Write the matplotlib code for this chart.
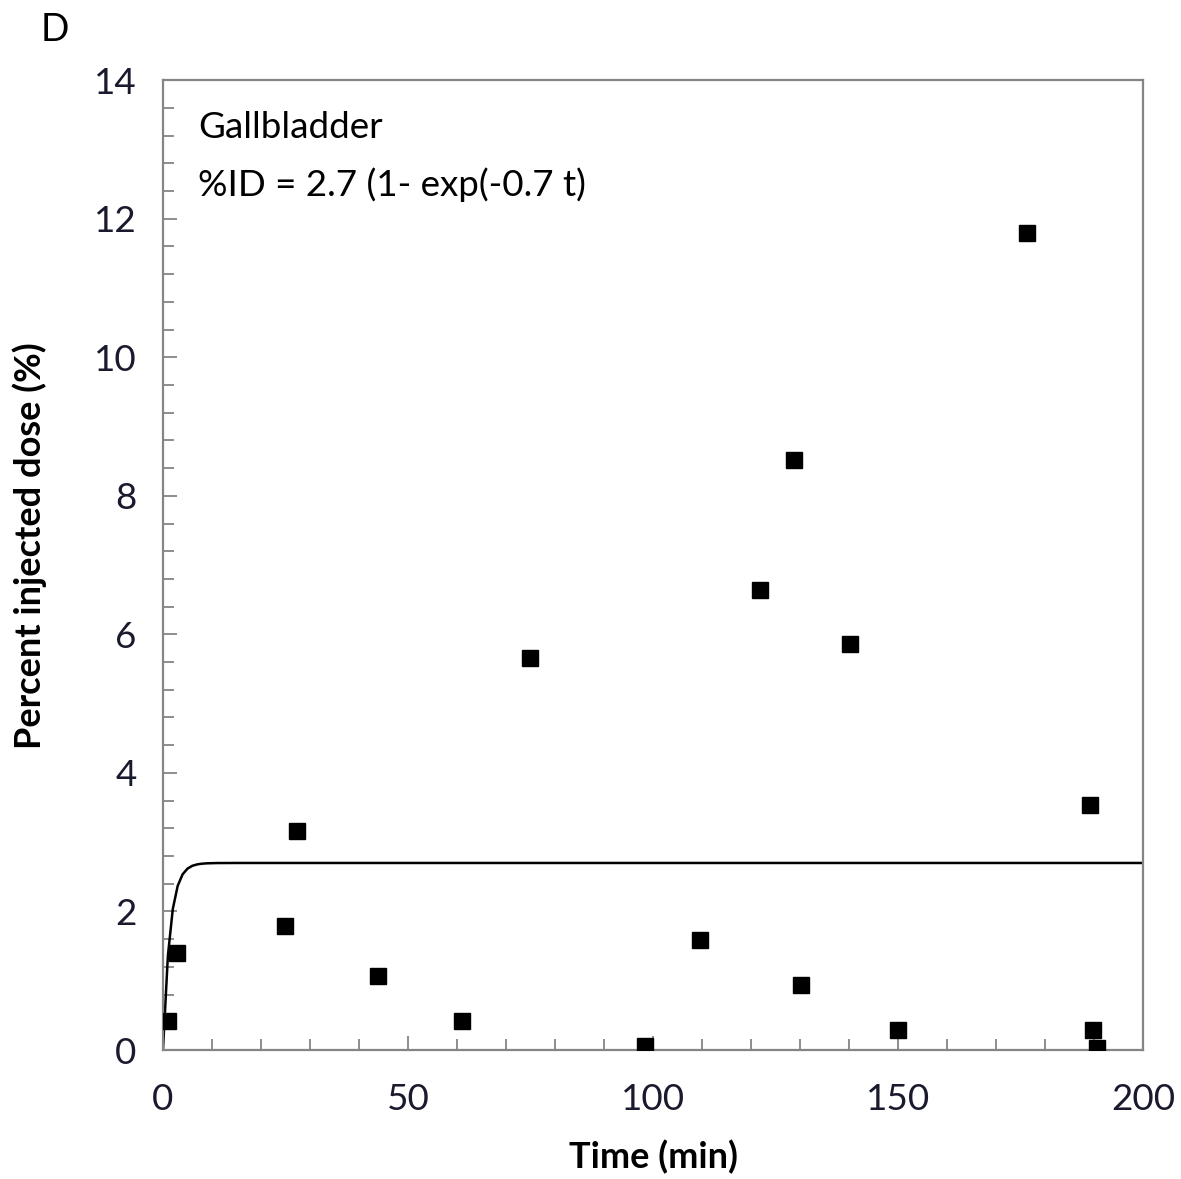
import numpy as np
import matplotlib
matplotlib.use("Agg")
import matplotlib.pyplot as plt
from matplotlib.ticker import MultipleLocator

plt.rcParams['font.family'] = ['Lato', 'DejaVu Sans']

# measured points (time in min, percent injected dose)
time_min = [1.0, 2.9, 24.9, 27.3, 43.9, 61.0, 74.9, 98.4, 109.6, 121.8,
            128.8, 130.2, 140.2, 150.0, 176.3, 189.2, 189.8, 190.6]
pct_dose = [0.42, 1.40, 1.79, 3.16, 1.07, 0.42, 5.66, 0.06, 1.59, 6.64,
            8.51, 0.94, 5.86, 0.29, 11.79, 3.54, 0.29, 0.03]

# fitted model from the annotation: %ID = 2.7 (1 - exp(-0.7 t))
fit_a = 2.7
fit_k = 0.7
fit_t = np.arange(0, 201, 1.0)
fit_y = fit_a * (1 - np.exp(-fit_k * fit_t))

fig = plt.figure(figsize=(11.81, 11.79), dpi=100)
ax = fig.add_axes([0.138, 0.1094, 0.830, 0.8226])

ax.plot(fit_t, fit_y, color='black', lw=1.8, zorder=2)
ax.plot(time_min, pct_dose, 's', color='black', ms=11, zorder=3)

ax.set_xlim(0, 200)
ax.set_ylim(0, 14)
ax.xaxis.set_major_locator(MultipleLocator(50))
ax.xaxis.set_minor_locator(MultipleLocator(10))
ax.yaxis.set_major_locator(MultipleLocator(2))
ax.yaxis.set_minor_locator(MultipleLocator(0.4))

for s in ax.spines.values():
    s.set_color('#858585')
    s.set_linewidth(1.6)

ax.tick_params(which='both', direction='in', colors='#858585',
               labelcolor='#1a1a2e', labelsize=26.5, width=1.3)
ax.tick_params(which='major', length=10)
ax.tick_params(which='minor', length=8)
ax.tick_params(axis='x', which='major', pad=24)
ax.tick_params(axis='y', which='major', pad=19)

ax.set_xlabel('Time (min)', fontsize=26, fontweight='bold', labelpad=17)
ax.set_ylabel('Percent injected dose (%)', fontsize=26, fontweight='bold',
              labelpad=34, y=0.52)

ax.text(0.036, 0.968, 'Gallbladder', transform=ax.transAxes, fontsize=26.5,
        va='top', ha='left')
ax.text(0.036, 0.91, '%ID = 2.7 (1- exp(-0.7 t)', transform=ax.transAxes,
        fontsize=26.5, va='top', ha='left')

fig.text(0.034, 0.99, 'D', fontsize=27, va='top', ha='left')

fig.savefig('out.png', dpi=100)
